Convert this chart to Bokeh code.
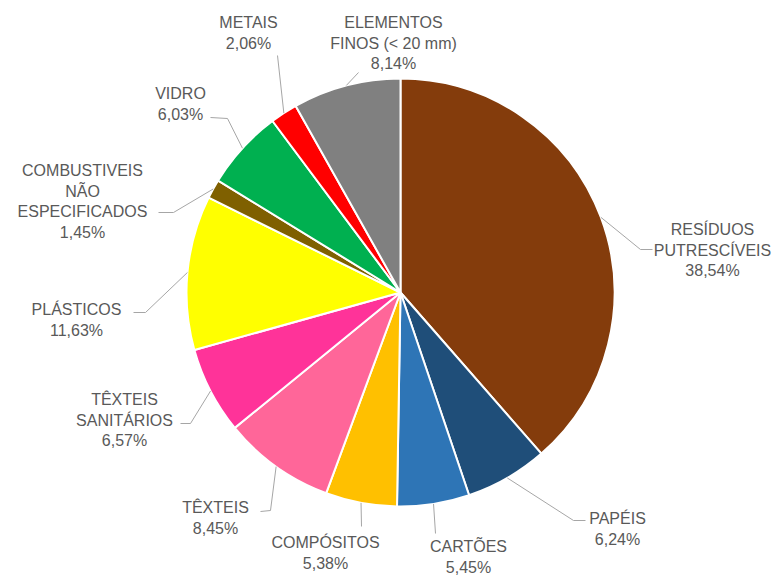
import numpy as np
from bokeh.plotting import figure
from bokeh.models import Range1d, ColumnDataSource
from bokeh.core.properties import value
from bokeh.embed import file_html
from bokeh.resources import INLINE

# ---- data ----
categories = [
    "RESÍDUOS PUTRESCÍVEIS", "PAPÉIS", "CARTÕES", "COMPÓSITOS", "TÊXTEIS",
    "TÊXTEIS SANITÁRIOS", "PLÁSTICOS", "COMBUSTIVEIS NÃO ESPECIFICADOS",
    "VIDRO", "METAIS", "ELEMENTOS FINOS (< 20 mm)",
]
label_lines = [
    ["RESÍDUOS", "PUTRESCÍVEIS"], ["PAPÉIS"], ["CARTÕES"], ["COMPÓSITOS"], ["TÊXTEIS"],
    ["TÊXTEIS", "SANITÁRIOS"], ["PLÁSTICOS"], ["COMBUSTIVEIS", "NÃO", "ESPECIFICADOS"],
    ["VIDRO"], ["METAIS"], ["ELEMENTOS", "FINOS (< 20 mm)"],
]
values = [38.54, 6.24, 5.45, 5.38, 8.45, 6.57, 11.63, 1.45, 6.03, 2.06, 8.14]
colors = ["#843C0C", "#1F4E79", "#2E75B6", "#FFC000", "#FF6699", "#FF3399",
          "#FFFF00", "#7F6000", "#00B050", "#FF0000", "#808080"]

# ---- layout (pixel coordinates, y measured from top) ----
W, H = 781, 576
CX, CY, R = 400, 292, 214
label_center = [(712, 229), (617, 518), (468, 546), (325, 542), (215, 507),
                (124, 399), (76, 309), (82, 170), (180, 93), (248, 22), (393, 22)]
line_gap = 20.5
leader_pts = [
    [(640, 249), (652, 249)],
    [(573, 520), (585, 520)],
    [(435, 533)],
    [(361, 526)],
    [(270, 510), (260, 511)],
    [(190, 423), (180, 423)],
    [(145, 312), (133, 312)],
    [(173, 212), (158, 212)],
    [(227, 118), (210, 117)],
    [(277, 55)],
    [(358, 72)],
]

def Y(yp):
    return H - yp

vals = np.array(values)
frac = vals / vals.sum()
c1 = np.cumsum(frac)
c0 = c1 - frac
start = np.pi / 2 - 2 * np.pi * c1
end = np.pi / 2 - 2 * np.pi * c0
mid = (c0 + c1) / 2

p = figure(width=W, height=H, x_range=Range1d(0, W), y_range=Range1d(0, H),
           output_backend="svg", toolbar_location=None,
           x_axis_location=None, y_axis_location=None, min_border=0)
p.grid.visible = False
p.outline_line_color = None
p.background_fill_color = "white"
p.border_fill_color = "white"

src = ColumnDataSource(dict(start=start, end=end, color=colors, cat=categories))
p.wedge(x=CX, y=Y(CY), radius=R, start_angle="start", end_angle="end",
        fill_color="color", line_color="white", line_width=2, source=src)

# leader lines from slice edge (mid-angle) to labels
xs, ys = [], []
for i, m in enumerate(mid):
    ang = 2 * np.pi * m
    ex = CX + R * np.sin(ang)
    ey = CY - R * np.cos(ang)
    px = [ex] + [q[0] for q in leader_pts[i]]
    py = [Y(ey)] + [Y(q[1]) for q in leader_pts[i]]
    xs.append(px)
    ys.append(py)
p.multi_line(xs=xs, ys=ys, line_color="#a6a6a6", line_width=1)

# labels
tx, ty, tt = [], [], []
for i, lines in enumerate(label_lines):
    all_lines = lines + [f"{values[i]:.2f}".replace(".", ",") + "%"]
    lx, ly = label_center[i]
    for k, s in enumerate(all_lines):
        tx.append(lx)
        ty.append(Y(ly + k * line_gap))
        tt.append(s)
p.text(x=tx, y=ty, text=tt, text_align="center", text_baseline="middle",
       text_font=value("Liberation Sans"), text_font_size="16px", text_color="#595959")

open("out.html", "w").write(file_html(p, INLINE))
